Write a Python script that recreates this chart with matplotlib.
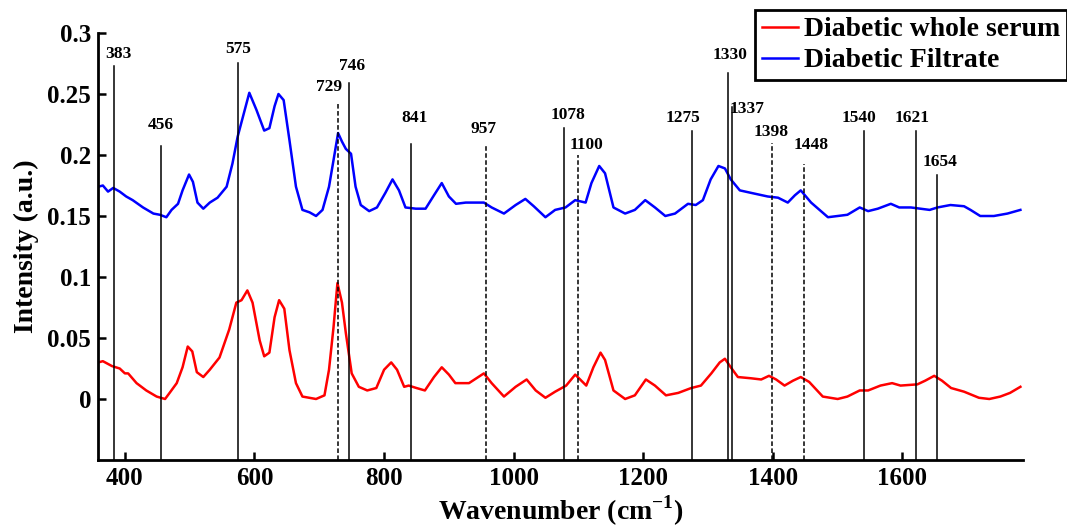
"""Raman spectra: diabetic whole serum vs filtrate, with marked bands."""

import matplotlib

matplotlib.use("Agg")
import matplotlib.pyplot as plt

# spectra (wavenumber in cm^-1, intensity in a.u.)
filtrate_wn = [
    359, 366, 374, 382, 392, 402, 412, 428, 444, 454, 464, 472, 482, 489, 499,
    505, 512, 521, 531, 543, 557, 566, 574, 585, 592, 603, 615, 623, 631, 637,
    645, 654, 664, 674, 685, 695, 705, 715, 723, 729, 735, 741, 749, 756, 764,
    777, 789, 802, 813, 823, 833, 849, 864, 877, 889, 900, 911, 926, 954, 966,
    985, 1003, 1018, 1031, 1049, 1064, 1080, 1095, 1111, 1120, 1132, 1141, 1154,
    1172, 1187, 1203, 1218, 1234, 1249, 1269, 1281, 1292, 1304, 1316, 1326, 1335,
    1349, 1366, 1392, 1408, 1423, 1434, 1443, 1459, 1485, 1515, 1534, 1547, 1562,
    1582, 1595, 1613, 1642, 1654, 1674, 1695, 1705, 1720, 1741, 1762, 1782,
]
filtrate_int = [
    0.174, 0.175, 0.170, 0.173, 0.170, 0.166, 0.163, 0.157, 0.152, 0.151, 0.149,
    0.155, 0.160, 0.171, 0.184, 0.178, 0.161, 0.156, 0.161, 0.165, 0.174, 0.193,
    0.215, 0.237, 0.251, 0.237, 0.220, 0.222, 0.240, 0.250, 0.245, 0.212, 0.174,
    0.155, 0.153, 0.150, 0.155, 0.174, 0.199, 0.218, 0.211, 0.205, 0.201, 0.174,
    0.159, 0.154, 0.157, 0.169, 0.180, 0.171, 0.157, 0.156, 0.156, 0.167, 0.177,
    0.166, 0.160, 0.161, 0.161, 0.157, 0.152, 0.159, 0.164, 0.158, 0.149, 0.155,
    0.157, 0.163, 0.161, 0.177, 0.191, 0.185, 0.157, 0.152, 0.155, 0.163, 0.157,
    0.150, 0.152, 0.160, 0.159, 0.163, 0.180, 0.191, 0.189, 0.180, 0.171, 0.169,
    0.166, 0.165, 0.161, 0.167, 0.171, 0.161, 0.149, 0.151, 0.157, 0.154, 0.156,
    0.160, 0.157, 0.157, 0.155, 0.157, 0.159, 0.158, 0.155, 0.150, 0.150, 0.152,
    0.155,
]

serum_wn = [
    359, 366, 380, 392, 400, 405, 418, 433, 449, 462, 469, 480, 489, 497, 504,
    511, 521, 531, 546, 561, 572, 580, 589, 597, 608, 615, 623, 631, 638, 646,
    654, 664, 674, 695, 708, 715, 722, 728, 735, 741, 750, 761, 774, 788, 800,
    811, 820, 831, 838, 850, 863, 877, 889, 900, 910, 931, 954, 966, 985, 1003,
    1020, 1034, 1049, 1064, 1081, 1095, 1112, 1123, 1134, 1141, 1154, 1172, 1187,
    1204, 1218, 1235, 1254, 1274, 1289, 1305, 1318, 1326, 1335, 1346, 1366, 1382,
    1394, 1405, 1418, 1431, 1443, 1456, 1477, 1500, 1515, 1534, 1547, 1566, 1584,
    1597, 1623, 1635, 1649, 1661, 1675, 1695, 1718, 1734, 1751, 1766, 1782,
]
serum_int = [
    0.030, 0.031, 0.027, 0.025, 0.021, 0.021, 0.013, 0.007, 0.002, 0.000, 0.005,
    0.013, 0.026, 0.043, 0.039, 0.022, 0.018, 0.024, 0.034, 0.057, 0.079, 0.081,
    0.089, 0.079, 0.048, 0.035, 0.038, 0.067, 0.081, 0.074, 0.040, 0.013, 0.002,
    0.000, 0.003, 0.024, 0.059, 0.095, 0.079, 0.054, 0.021, 0.010, 0.007, 0.009,
    0.024, 0.030, 0.024, 0.010, 0.011, 0.009, 0.007, 0.018, 0.026, 0.020, 0.013,
    0.013, 0.021, 0.013, 0.002, 0.010, 0.016, 0.007, 0.001, 0.006, 0.011, 0.020,
    0.011, 0.026, 0.038, 0.032, 0.007, 0.000, 0.003, 0.016, 0.011, 0.003, 0.005,
    0.009, 0.011, 0.021, 0.030, 0.033, 0.026, 0.018, 0.017, 0.016, 0.019, 0.016,
    0.011, 0.015, 0.018, 0.014, 0.002, 0.000, 0.002, 0.007, 0.007, 0.011, 0.013,
    0.011, 0.012, 0.015, 0.019, 0.015, 0.009, 0.006, 0.001, 0.000, 0.002, 0.005,
    0.010,
]

# marked bands: position, height of the marker line, height of its label
bands = [383, 456, 575, 729, 746, 841, 957, 1078, 1100, 1275,
         1330, 1337, 1398, 1448, 1540, 1621, 1654]
band_top = [0.273, 0.207, 0.275, 0.243, 0.259, 0.209, 0.209, 0.222, 0.200, 0.220,
            0.267, 0.239, 0.210, 0.193, 0.220, 0.220, 0.184]
label_y = [0.276, 0.218, 0.280, 0.249, 0.266, 0.224, 0.215, 0.226, 0.202, 0.224,
           0.275, 0.231, 0.212, 0.202, 0.224, 0.224, 0.188]
dashed_bands = {729, 957, 1100, 1398, 1448}
# small horizontal nudges of the labels (points)
label_dx = {383: 3, 729: -6.5, 746: 2, 841: 3, 957: -2, 1078: 3, 1100: 6,
            1275: -6.5, 1330: 2, 1448: 5, 1540: -3.5, 1621: -3, 1654: 2}

x_ticks = [400, 600, 800, 1000, 1200, 1400, 1600]
y_ticks = [0, 0.05, 0.1, 0.15, 0.2, 0.25, 0.3]

plt.rcParams["font.family"] = ["Liberation Serif", "DejaVu Serif"]
plt.rcParams["font.weight"] = "bold"
plt.rcParams["mathtext.fontset"] = "custom"
plt.rcParams["mathtext.rm"] = "Liberation Serif:bold"
plt.rcParams["mathtext.bf"] = "Liberation Serif:bold"

fig = plt.figure(figsize=(10.67, 5.29), dpi=100)
ax = fig.add_axes([98 / 1067, 1 - 460 / 529, (1023 - 98) / 1067, (460 - 33) / 529])

ax.plot(serum_wn, serum_int, color="#ff0000", lw=1.8, label="Diabetic whole serum")
ax.plot(filtrate_wn, filtrate_int, color="#0000ff", lw=1.8, label="Diabetic Filtrate")

for pos, top, ly in zip(bands, band_top, label_y):
    ls = (0, (3, 1.6)) if pos in dashed_bands else "-"
    ax.plot([pos, pos], [-0.05, top], color="black", lw=1.1, ls=ls)
    if pos == 1337:
        ax.annotate(str(pos), xy=(pos, ly), xytext=(-2, 0), textcoords="offset points",
                    ha="left", va="bottom", fontsize=12.5, fontweight="bold")
    else:
        ax.annotate(str(pos), xy=(pos, ly), xytext=(label_dx.get(pos, 0), 0),
                    textcoords="offset points", ha="center", va="bottom",
                    fontsize=12.5, fontweight="bold")

ax.set_xlim(358.5, 1786)
ax.set_ylim(-0.05, 0.3)
ax.set_xticks(x_ticks)
ax.set_yticks(y_ticks)
ax.set_yticklabels(["0", "0.05", "0.1", "0.15", "0.2", "0.25", "0.3"])

for side in ("top", "right"):
    ax.spines[side].set_visible(False)
for side in ("left", "bottom"):
    ax.spines[side].set_linewidth(2)
ax.tick_params(direction="in", length=6, width=1.8, labelsize=18, pad=5)

ax.set_xlabel("Wavenumber (cm$^{-1}$)", fontsize=20, fontweight="bold", labelpad=3)
ax.set_ylabel("Intensity (a.u.)", fontsize=20, fontweight="bold", labelpad=6)

leg = fig.legend(loc="upper right", bbox_to_anchor=(1067 / 1067, 1 - 10 / 529),
                 prop={"size": 20, "weight": "bold"}, fancybox=False, framealpha=1,
                 edgecolor="black", borderpad=0.25, labelspacing=0.2,
                 handlelength=1.3, handletextpad=0.2, borderaxespad=0)
leg.get_frame().set_linewidth(2)

fig.savefig("out.png", dpi=100)
